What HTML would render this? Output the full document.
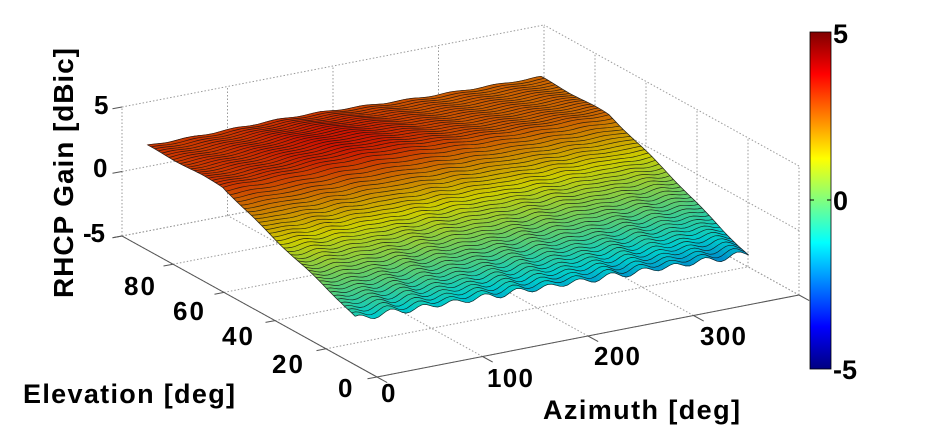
<!DOCTYPE html>
<html><head><meta charset="utf-8"><style>
html,body{margin:0;padding:0;background:#fff;}
svg{display:block;}
text{font-family:"Liberation Sans",Arial,sans-serif;font-weight:bold;fill:#000;}
</style></head><body>
<svg id="s" width="936" height="425" viewBox="0 0 936 425" xmlns="http://www.w3.org/2000/svg">
<defs>
<linearGradient id="jet" x1="0" y1="0" x2="0" y2="1">
<stop offset="0" stop-color="#800000"/>
<stop offset="0.125" stop-color="#ff0000"/>
<stop offset="0.375" stop-color="#ffff00"/>
<stop offset="0.625" stop-color="#00ffff"/>
<stop offset="0.875" stop-color="#0000ff"/>
<stop offset="1" stop-color="#000080"/>
</linearGradient>
</defs>
<g id="grid"></g>
<g id="surf"></g>
<g id="axes"></g>
<rect x="810" y="32" width="21" height="337" fill="url(#jet)" stroke="#000" stroke-width="0.8"/>
<line x1="810" y1="200" x2="814" y2="200" stroke="#000"/><line x1="827" y1="200" x2="831" y2="200" stroke="#000"/>
<text x="833" y="43" font-size="27">5</text>
<text x="833" y="210" font-size="27">0</text>
<text x="833" y="379" font-size="27">-5</text>
<text x="94" y="114" font-size="26">5</text>
<text x="93" y="177" font-size="26">0</text>
<text x="83" y="242" font-size="26" textLength="22">-5</text>
<text x="124" y="295" font-size="26" textLength="31">80</text>
<text x="173" y="320" font-size="26" textLength="31">60</text>
<text x="222" y="345" font-size="26" textLength="31">40</text>
<text x="272" y="373" font-size="26" textLength="31">20</text>
<text x="338" y="397" font-size="26">0</text>
<text x="381" y="402" font-size="26">0</text>
<text x="487" y="387" font-size="26" textLength="46">100</text>
<text x="594" y="365" font-size="26" textLength="46">200</text>
<text x="700" y="345" font-size="26" textLength="46">300</text>
<text x="23" y="403" font-size="27" textLength="212">Elevation [deg]</text>
<text x="543" y="419" font-size="27" textLength="197">Azimuth [deg]</text>
<text transform="translate(73,173) rotate(-90)" text-anchor="middle" font-size="28" textLength="250">RHCP Gain [dBic]</text>
</svg>
<script>
var NS="http://www.w3.org/2000/svg";
function P(az,el,z){return [377+1.055*az-2.55*el, 377-0.205*az-1.41*el-(z+5)*12.9];}
function el(tag,attrs,parent){var e=document.createElementNS(NS,tag);for(var k in attrs)e.setAttribute(k,attrs[k]);parent.appendChild(e);return e;}
var G=document.getElementById('grid'),S=document.getElementById('surf'),A=document.getElementById('axes');
function dl(a,b,par,st){el('line',{x1:a[0].toFixed(1),y1:a[1].toFixed(1),x2:b[0].toFixed(1),y2:b[1].toFixed(1),stroke:st||'#9a9a9a','stroke-width':1,'stroke-dasharray':st?'':'1.5 2'},par);}
for(var a=0;a<=400;a+=100)dl(P(a,100,-5),P(a,100,5),G);
for(var z=-5;z<=5;z+=5)dl(P(0,100,z),P(400,100,z),G);
for(var e=0;e<=100;e+=20)dl(P(400,e,-5),P(400,e,5),G);
for(var z=-5;z<=5;z+=5)dl(P(400,0,z),P(400,100,z),G);
for(var a=0;a<=400;a+=100)dl(P(a,0,-5),P(a,100,-5),G);
for(var e=0;e<=100;e+=20)dl(P(0,e,-5),P(400,e,-5),G);
dl(P(0,0,-5),P(0,100,-5),A,'#555');
dl(P(0,0,-5),P(400,0,-5),A,'#555');
for(var e=0;e<=100;e+=20)dl(P(0,e,-5),P(-9,e,-5),A,'#555');
for(var a=0;a<=400;a+=100)dl(P(a,0,-5),P(a,-4,-5),A,'#555');
for(var z=-5;z<=5;z+=5)dl(P(0,100,z),P(-9,100,z),A,'#555');
function Z(u,e){
 var sL=Math.min(1,(e-8.6)/52), sR=Math.min(1,(e-8.6)/55);
 var zL=-1.4+4.5*sL, zR=-2.3+4.8*sR;
 var z=zL+(zR-zL)*u;
 z+=0.7*Math.exp(-Math.pow((u-0.38)/0.22,2)-Math.pow((e-72)/18,2));
 var s=Math.min(1,(e-8.6)/55);
 z+=0.22*Math.pow(1-s,1.5)*Math.sin(2*Math.PI*u*12.5+e*0.08)+0.05*Math.sin(2*Math.PI*u*9+e*0.3);
 return z;
}
function cl(x){return Math.max(0,Math.min(1,x));}
function jet(z){var t0=cl((z+5)/10);var t=cl(t0+0.08*(1-t0)-0.02);var r=cl(1.5-Math.abs(4*t-3)),g=cl(1.5-Math.abs(4*t-2)),b=cl(1.5-Math.abs(4*t-1));var f=0.8;return 'rgb('+Math.round(r*255*f)+','+Math.round(g*255*f)+','+Math.round(b*255*f)+')';}
var nu=100,nv=58,pts=[];
for(var j=0;j<=nv;j++){pts[j]=[];var e=90-(90-8.6)*j/nv;for(var i=0;i<=nu;i++){var u=i/nu;var z=Z(u,e);var p=P(373*u,e,z);pts[j][i]=[p[0],p[1],z];}}
for(var j=0;j<nv;j++){
 for(var i=0;i<nu;i++){
  var a=pts[j][i],b=pts[j][i+1],c=pts[j+1][i+1],d=pts[j+1][i];
  var col=jet((a[2]+b[2]+c[2]+d[2])/4);
  el('polygon',{points:[a,b,c,d].map(function(q){return q[0].toFixed(1)+','+q[1].toFixed(1)}).join(' '),fill:col,stroke:col,'stroke-width':0.6},S);
 }
}
for(var j=0;j<=nv;j++){
 el('polyline',{points:pts[j].map(function(q){return q[0].toFixed(1)+','+q[1].toFixed(1)}).join(' '),fill:'none',stroke:'#111','stroke-width':0.7,'stroke-opacity':0.85},S);
}
var le=[],re=[];for(var j=0;j<=nv;j++){le.push(pts[j][0]);re.push(pts[j][nu]);}
[le,re].forEach(function(L){el('polyline',{points:L.map(function(q){return q[0].toFixed(1)+','+q[1].toFixed(1)}).join(' '),fill:'none',stroke:'#222','stroke-width':0.7},S);});
</script>
</body></html>
